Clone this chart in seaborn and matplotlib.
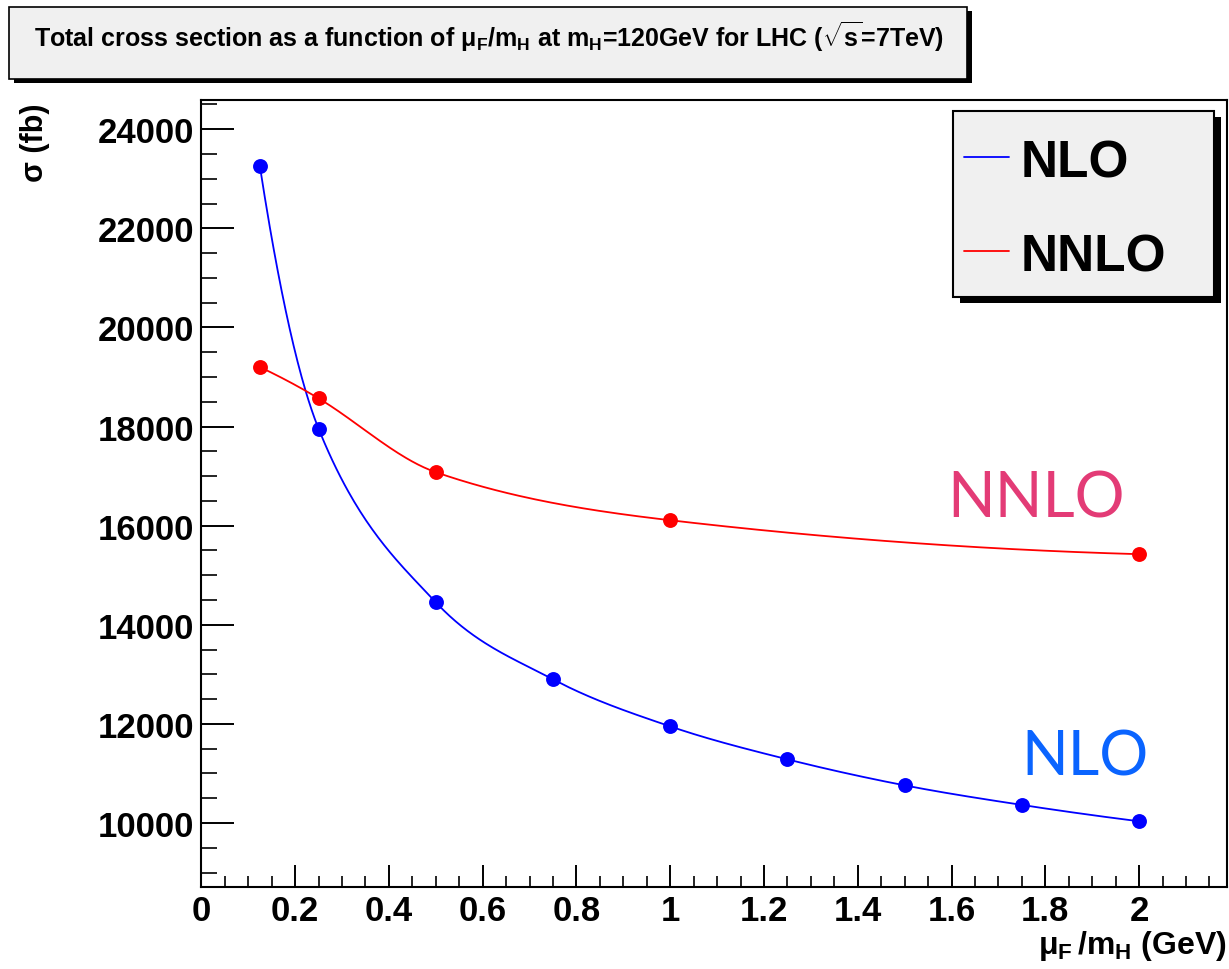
import numpy as np
import pandas as pd
import matplotlib
matplotlib.use("Agg")
import matplotlib.pyplot as plt
from matplotlib.patches import Rectangle
from matplotlib.lines import Line2D
import seaborn as sns

# ---------------- data ----------------
mu_nlo = [0.125, 0.25, 0.5, 0.75, 1.0, 1.25, 1.5, 1.75, 2.0]
sigma_nlo = [23250, 17960, 14455, 12900, 11950, 11285, 10760, 10365, 10035]
mu_nnlo = [0.125, 0.25, 0.5, 1.0, 2.0]
sigma_nnlo = [19200, 18570, 17080, 16110, 15425]

x_ticks = [0, 0.2, 0.4, 0.6, 0.8, 1.0, 1.2, 1.4, 1.6, 1.8, 2.0]
x_tick_labels = ["0", "0.2", "0.4", "0.6", "0.8", "1", "1.2", "1.4", "1.6", "1.8", "2"]
y_ticks = [10000, 12000, 14000, 16000, 18000, 20000, 22000, 24000]
y_tick_labels = ["10000", "12000", "14000", "16000", "18000", "20000", "22000", "24000"]

series_names = ["NLO", "NNLO"]
series_colors = ["#0000ff", "#ff0000"]
title_text = r"Total cross section as a function of μ$_\mathrm{F}$/m$_\mathrm{H}$ at m$_\mathrm{H}$=120GeV for LHC ($\sqrt{\mathrm{s}}$=7TeV)"
x_label = r"μ$_\mathrm{F}\,$/m$_\mathrm{H}$ (GeV)"
y_label = "σ (fb)"


def smooth_curve(x, y, n=60):
    """Cubic Hermite curve through the data points (Catmull-Rom style
    tangents, quadratic end conditions) used only to draw the smooth line."""
    x = np.asarray(x, float)
    y = np.asarray(y, float)
    k = len(x)
    m = np.zeros(k)
    for i in range(1, k - 1):
        m[i] = (y[i + 1] - y[i - 1]) / (x[i + 1] - x[i - 1])
    m[0] = 2 * (y[1] - y[0]) / (x[1] - x[0]) - m[1]
    m[-1] = 2 * (y[-1] - y[-2]) / (x[-1] - x[-2]) - m[-2]
    xs_all, ys_all = [], []
    for i in range(k - 1):
        h = x[i + 1] - x[i]
        t = np.linspace(0, 1, n)
        h00 = 2 * t ** 3 - 3 * t ** 2 + 1
        h10 = t ** 3 - 2 * t ** 2 + t
        h01 = -2 * t ** 3 + 3 * t ** 2
        h11 = t ** 3 - t ** 2
        xs_all.append(x[i] + t * h)
        ys_all.append(h00 * y[i] + h10 * h * m[i] + h01 * y[i + 1] + h11 * h * m[i + 1])
    return np.concatenate(xs_all), np.concatenate(ys_all)


# ---------------- style ----------------
sns.set_theme(style="white")
plt.rcParams["font.family"] = ["Liberation Sans", "DejaVu Sans"]
plt.rcParams["font.weight"] = "bold"
plt.rcParams["text.color"] = "black"
plt.rcParams["axes.labelcolor"] = "black"
plt.rcParams["xtick.color"] = "black"
plt.rcParams["ytick.color"] = "black"
plt.rcParams["mathtext.fontset"] = "custom"
plt.rcParams["mathtext.rm"] = "Liberation Sans:bold"
plt.rcParams["mathtext.bf"] = "Liberation Sans:bold"
plt.rcParams["mathtext.it"] = "Liberation Sans:bold:italic"
plt.rcParams["mathtext.sf"] = "Liberation Sans:bold"

W, H = 1229, 970
fig = plt.figure(figsize=(W / 100, H / 100), dpi=100)
fig.patch.set_facecolor("white")


def fx(px):
    return px / W


def fy(py):
    return (H - py) / H


ax_l, ax_r, ax_t, ax_b = 201.3, 1227.0, 101.0, 887.7
ax = fig.add_axes([fx(ax_l), fy(ax_b), fx(ax_r - ax_l), (ax_b - ax_t) / H])
ax.set_facecolor("white")

# ---------------- curves ----------------
for xs_, ys_, col in [(mu_nlo, sigma_nlo, series_colors[0]), (mu_nnlo, sigma_nnlo, series_colors[1])]:
    sx, sy = smooth_curve(xs_, ys_)
    sns.lineplot(x=sx, y=sy, ax=ax, color=col, lw=1.3, sort=False, estimator=None, legend=False)
    sns.scatterplot(x=xs_, y=ys_, ax=ax, color=col, s=115, linewidth=0, legend=False, zorder=5)

ax.set_xlim(0, 2.1875)
ax.set_ylim(8715, 24590)
ax.set_xticks(x_ticks)
ax.set_xticklabels(x_tick_labels)
ax.set_yticks(y_ticks)
ax.set_yticklabels(y_tick_labels)
ax.set_xticks(np.arange(0, 2.1875, 0.05), minor=True)
ax.set_yticks(np.arange(9000, 24600, 500), minor=True)
ax.set_xlabel("")
ax.set_ylabel("")

ax.tick_params(axis="x", which="major", direction="in", length=15.8, width=1.4,
               pad=5, labelsize=25, bottom=True, top=False, color="black", labelcolor="black")
ax.tick_params(axis="x", which="minor", direction="in", length=7.9, width=1.2,
               bottom=True, top=False, color="black")
ax.tick_params(axis="y", which="major", direction="in", length=23.8, width=1.4,
               pad=5, labelsize=25, left=True, right=False, color="black", labelcolor="black")
ax.tick_params(axis="y", which="minor", direction="in", length=11.5, width=1.2,
               left=True, right=False, color="black")
for lab in ax.get_xticklabels() + ax.get_yticklabels():
    lab.set_fontweight("bold")
for sp in ax.spines.values():
    sp.set_visible(True)
    sp.set_color("black")
    sp.set_linewidth(1.5)

# annotations
ax.text(1.590, 16190, "NNLO", color="#e33b76", fontsize=45, fontweight="normal",
        family=["Lato", "DejaVu Sans"], ha="left", va="baseline")
ax.text(1.748, 10984, "NLO", color="#0a64ff", fontsize=44, fontweight="normal",
        family=["Lato", "DejaVu Sans"], ha="left", va="baseline")

# axis titles
fig.text(fx(35), fy(103), y_label, rotation=90, ha="center", va="top", fontsize=22, fontweight="bold")
fig.text(fx(1227), fy(954), x_label, ha="right", va="baseline", fontsize=23, fontweight="bold")

# ---------------- title box ----------------
tb_l, tb_r, tb_t, tb_b = 9, 967, 7.5, 80
fig.patches.append(Rectangle((fx(tb_l + 5), fy(tb_b + 4)), fx(tb_r - tb_l), (tb_b - tb_t) / H,
                             transform=fig.transFigure, facecolor="black", edgecolor="black", lw=0, zorder=1))
fig.patches.append(Rectangle((fx(tb_l), fy(tb_b)), fx(tb_r - tb_l), (tb_b - tb_t) / H,
                             transform=fig.transFigure, facecolor="#f0f0f0", edgecolor="black", lw=1.2, zorder=2))
fig.text(fx(489), fy(47), title_text, ha="center", va="baseline", fontsize=18, fontweight="bold", zorder=3)

# ---------------- legend box ----------------
lb_l, lb_r, lb_t, lb_b = 953, 1214, 112, 298
fig.patches.append(Rectangle((fx(lb_l + 7), fy(lb_b + 6)), fx(lb_r - lb_l), (lb_b - lb_t) / H,
                             transform=fig.transFigure, facecolor="black", edgecolor="black", lw=0, zorder=10))
fig.patches.append(Rectangle((fx(lb_l), fy(lb_b)), fx(lb_r - lb_l), (lb_b - lb_t) / H,
                             transform=fig.transFigure, facecolor="#f0f0f0", edgecolor="black", lw=1.5, zorder=11))
for name, col, ly, tyb in [(series_names[0], series_colors[0], 158, 177), (series_names[1], series_colors[1], 252, 271)]:
    fig.lines.append(Line2D([fx(964), fx(1009)], [fy(ly), fy(ly)], transform=fig.transFigure,
                            color=col, lw=1.3, zorder=12))
    fig.text(fx(1021), fy(tyb), name, ha="left", va="baseline", fontsize=37, fontweight="bold", zorder=13)

fig.savefig("out.png", dpi=100, facecolor="white")
